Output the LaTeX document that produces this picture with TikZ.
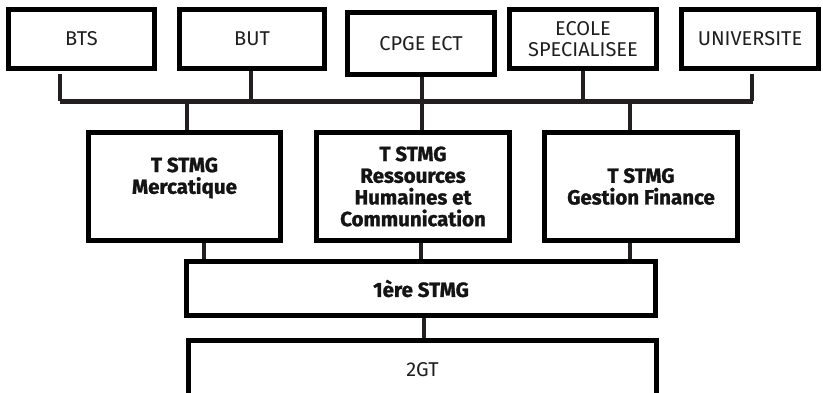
\documentclass[tikz,border=0pt]{standalone}
\usepackage{fontspec}
\setmainfont{Fira Sans}[BoldFeatures={FakeBold=1.2}]
\definecolor{conncol}{HTML}{231F20}
\tikzset{
  box/.style={draw=black, line width=5pt, fill=white, align=center, inner sep=0pt,
    font=\fontsize{20}{21.7}\selectfont, text=black!88},
  bbox/.style={box, font=\fontsize{20.5}{21.7}\selectfont\bfseries, text=black!92},
  conn/.style={draw=conncol, line width=4.5pt},
}
\begin{document}
\begin{tikzpicture}[x=1pt,y=-1pt]
\useasboundingbox (0,0) rectangle (823,393);
\clip (0,0) rectangle (823,393);
% top row
\node[box, minimum width=146pt, minimum height=59pt] (bts) at (81.5,39) {BTS};
\node[box, minimum width=145pt, minimum height=59pt] (but) at (252,39) {BUT};
\node[box, minimum width=147pt, minimum height=62pt] (cpge) at (421,43.5) {CPGE ECT};
\node[box, minimum width=147pt, minimum height=59pt] (ecole) at (583,39) {ECOLE\\SPECIALISEE};
\node[box, minimum width=137pt, minimum height=59pt] (univ) at (750,39) {UNIVERSITE};
% middle row
\node[bbox, minimum width=192pt, minimum height=108pt] (merc) at (184.5,186.5) {T STMG\\Mercatique\\\mbox{}};
\node[bbox, minimum width=193pt, minimum height=108pt] (rhc) at (413,186.5) {T STMG\\Ressources\\Humaines et\\Communication};
\node[bbox, minimum width=193pt, minimum height=108pt] (gf) at (641,186.5) {T STMG\\Gestion Finance};
% lower rows
\node[bbox, minimum width=469pt, minimum height=54pt] (prem) at (421,288.5) {1ère STMG};
\node[box, minimum width=468pt, minimum height=58pt] (sec) at (422.5,369.5) {2GT};
% bus
\coordinate (busL) at (60,101.5);
\coordinate (busR) at (753,101.5);
\coordinate (btsS) at (60,74);
\coordinate (univS) at (752,74);
\draw[conn] (busL) -- (busR);
\draw[conn] (btsS) -- (busL);
\draw[conn] (univS) -- (univS |- busR);
\draw[conn] (but.south -| 251,0) -- (251,101.5);
\draw[conn] (cpge.south -| 422,0) -- (rhc.north -| 422,0);
\draw[conn] (ecole.south -| 583,0) -- (583,101.5);
\draw[conn] (187,101.5) -- (merc.north -| 187,0);
\draw[conn] (630,101.5) -- (gf.north -| 630,0);
% middle to 1ere
\draw[conn] (merc.south -| 204,0) -- (prem.north -| 204,0);
\draw[conn] (rhc.south -| 421,0) -- (prem.north -| 421,0);
\draw[conn] (gf.south -| 630,0) -- (prem.north -| 630,0);
\draw[conn] (prem.south -| 424,0) -- (sec.north -| 424,0);
\end{tikzpicture}
\end{document}
